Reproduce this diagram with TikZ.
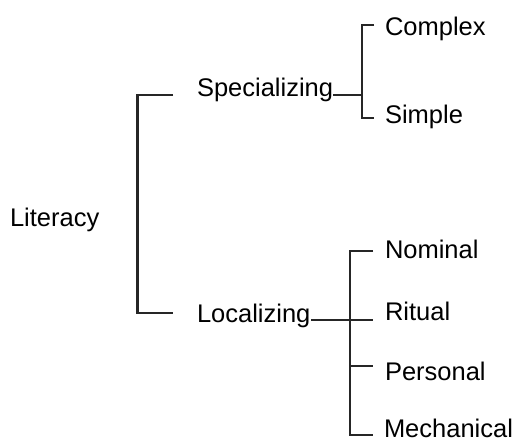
\documentclass[tikz,border=0pt]{standalone}
\usepackage{fontspec}
\setmainfont{Liberation Sans}
\begin{document}
\begin{tikzpicture}[x=1pt,y=-1pt,
  lbl/.style={anchor=base west,inner sep=0pt,outer sep=0pt,text=black,font=\fontsize{25.5}{30}\selectfont},
  brk/.style={draw=black!85,line width=2.3pt,line join=miter}]
\useasboundingbox[fill=white] (0,0) rectangle (514,441);
% labels
\node[lbl] (lit)  at (10,226) {Literacy};
\node[lbl] (spec) at (197,97) {Specializing};
\node[lbl] (loc)  at (197,322) {Localizing};
\node[lbl] (cx)   at (385,36) {Complex};
\node[lbl] (sim)  at (385,124) {Simple};
\node[lbl] (nom)  at (385,258) {Nominal};
\node[lbl] (rit)  at (385,320) {Ritual};
\node[lbl] (per)  at (385,380) {Personal};
\node[lbl] (mec)  at (384,437) {Mechanical};
% bracket junction points
\coordinate (specL) at (173,95);
\coordinate (locL)  at (173,313);
\coordinate (litT)  at (137.5,95);
\coordinate (litB)  at (137.5,313);
\coordinate (specR) at (362,95);
\coordinate (cxT)   at (362,25);
\coordinate (simB)  at (362,118);
\coordinate (cxE)   at (374,25);
\coordinate (simE)  at (374,118);
\coordinate (nomT)  at (350,251);
\coordinate (mecB)  at (350,435);
\coordinate (perJ)  at (350,366);
\coordinate (nomE)  at (373,251);
\coordinate (ritE)  at (373,320);
\coordinate (perE)  at (373,366);
\coordinate (mecE)  at (373,435);
% connectors
\draw[brk] (specL) -- (litT) -- (litB) -- (locL);
\draw[brk] ([yshift=2pt]spec.base east) -- (specR);
\draw[brk] (cxE) -- (cxT) -- (simB) -- (simE);
\draw[brk] ([xshift=1pt,yshift=2pt]loc.base east) -- (ritE);
\draw[brk] (nomE) -- (nomT) -- (mecB) -- (mecE);
\draw[brk] (perJ) -- (perE);
\end{tikzpicture}
\end{document}
